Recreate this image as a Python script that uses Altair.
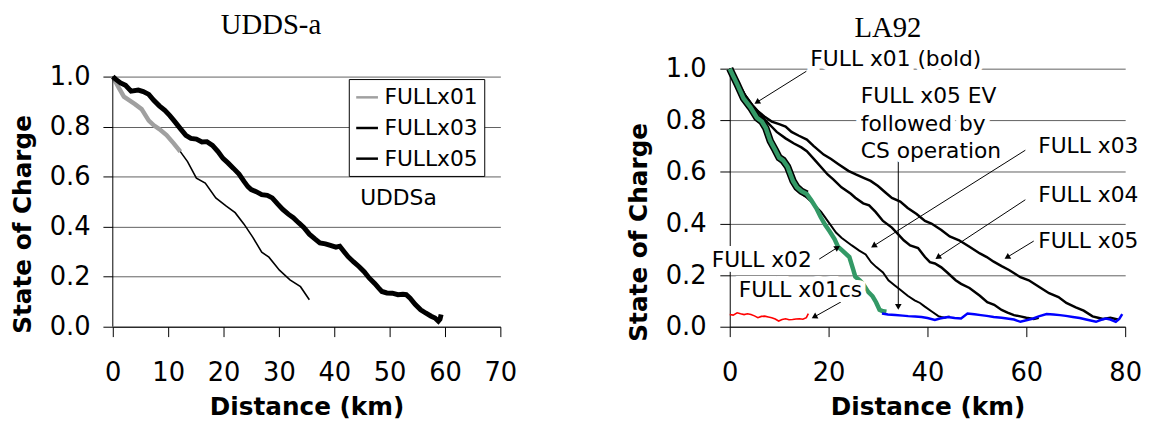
import math
import altair as alt
import pandas as pd

# ---------------- UDDS-a (left panel) ----------------
L01_KM = [0, 1.1, 2.0, 3.0, 4.0, 5.2, 6.5, 7.4, 8.4, 9.7, 11.0, 12.2]
L01_SOC = [1.0, 0.955, 0.92, 0.905, 0.89, 0.87, 0.824, 0.805, 0.79, 0.766, 0.733, 0.70]

L03_KM = [0, 1.1, 2.0, 3.0, 4.0, 5.2, 6.5, 7.4, 8.4, 9.7, 11.0, 12.2, 13.5, 15.1, 16.7, 18.6,
          20.5, 22.1, 23.7, 25.3, 26.9, 28.2, 30.1, 32.0, 33.9, 35.5]
L03_SOC = [1.0, 0.955, 0.92, 0.905, 0.89, 0.87, 0.824, 0.805, 0.79, 0.766, 0.733, 0.70, 0.66, 0.594,
           0.574, 0.515, 0.482, 0.456, 0.41, 0.357, 0.298, 0.278, 0.226, 0.187, 0.16, 0.108]

L05_KM = [0, 0.5, 1.4, 2.3, 3.3, 4.6, 5.5, 6.5, 7.4, 8.4, 9.4, 10.3, 11.2, 12.2, 13.2, 14.1, 15.1,
          16.1, 17, 18, 19, 19.9, 20.8, 21.8, 22.8, 23.7, 24.4, 25, 25.9, 26.9, 27.9, 28.8, 29.8,
          30.7, 31.7, 32.6, 33.6, 34.5, 35.5, 36.5, 37.4, 38.4, 39.3, 40.3, 41, 41.6, 42.5, 43.5,
          44.5, 45.4, 46.3, 47.3, 48, 48.6, 49.5, 50.5, 51.5, 52.4, 53, 53.7, 54.6, 55.6, 56.5,
          57.5, 58.2, 58.8, 59.1, 59.3]
L05_SOC = [1.0, 0.99, 0.975, 0.965, 0.942, 0.946, 0.94, 0.929, 0.905, 0.883, 0.865, 0.844, 0.82,
           0.792, 0.765, 0.753, 0.75, 0.739, 0.74, 0.725, 0.70, 0.673, 0.655, 0.633, 0.61, 0.581,
           0.56, 0.548, 0.54, 0.528, 0.525, 0.515, 0.49, 0.469, 0.45, 0.436, 0.415, 0.397, 0.37,
           0.351, 0.335, 0.331, 0.325, 0.318, 0.322, 0.305, 0.28, 0.259, 0.24, 0.22, 0.195, 0.173,
           0.155, 0.141, 0.135, 0.134, 0.128, 0.13, 0.128, 0.114, 0.09, 0.068, 0.055, 0.042, 0.035,
           0.022, 0.03, 0.049]

LEFT_SERIES = ["FULLx01", "FULLx03", "FULLx05"]
LEFT_COLORS = ["#a0a0a0", "#000000", "#000000"]
LEFT_NOTE = ["UDDSa"]
LEFT_NOTE_KM = [51.6]
LEFT_NOTE_SOC = [0.516]

# ---------------- LA92 (right panel) ----------------
R01_KM = [0, 0.5, 1.5, 2.8, 4.2, 5.5, 6.5, 7.3, 8.2, 9.2, 10.0, 10.8, 11.7, 12.8, 13.6, 14.5, 15.6]
R01_SOC = [1.0, 0.98, 0.94, 0.885, 0.85, 0.81, 0.795, 0.77, 0.72, 0.685, 0.655, 0.645, 0.62, 0.565,
           0.54, 0.525, 0.514]

R02_KM = [0, 0.5, 1.5, 2.8, 4.2, 5.5, 6.5, 7.3, 8.2, 9.2, 10.0, 10.8, 11.7, 12.8, 13.6, 14.5, 15.6,
          16.5, 17.5, 18.4, 19.3, 20.2, 21.2, 21.9, 22.8, 24.2, 25.0, 25.4, 26.3, 27.0, 28.0, 28.9,
          29.6, 30.3, 31.0, 31.7]
R02_SOC = [1.0, 0.98, 0.94, 0.885, 0.85, 0.81, 0.795, 0.77, 0.72, 0.685, 0.655, 0.645, 0.62, 0.565,
           0.54, 0.525, 0.514, 0.49, 0.46, 0.425, 0.395, 0.37, 0.34, 0.31, 0.295, 0.27, 0.22, 0.194,
           0.18, 0.165, 0.135, 0.118, 0.095, 0.066, 0.06, 0.058]

R03_KM = [0, 1.5, 2.8, 4.2, 5.5, 7.3, 8.2, 9.2, 10.0, 11.7, 12.8, 14.5, 15.6, 17.0, 18.5, 19.8,
          21.5, 22.6, 24.7, 26.2, 27.5, 28.6, 29.6, 31.0, 32.1, 33.4, 34.5, 36.0, 37.4, 38.5, 39.4,
          40.8, 42.2, 42.8, 43.5, 44.5]
R03_SOC = [1.0, 0.94, 0.88, 0.845, 0.805, 0.765, 0.715, 0.675, 0.645, 0.61, 0.555, 0.515, 0.50,
           0.475, 0.445, 0.41, 0.365, 0.345, 0.315, 0.295, 0.28, 0.25, 0.232, 0.21, 0.18, 0.16,
           0.143, 0.12, 0.102, 0.092, 0.079, 0.06, 0.041, 0.038, 0.035, 0.04]

R04_KM = [0, 1.5, 3, 4.5, 5.7, 7, 8.5, 9.5, 11.3, 13, 14.5, 15.6, 17.5, 19.8, 21, 22.6, 24.5, 25.4,
          27, 28.2, 29.5, 31, 32.8, 34, 35.2, 36.5, 38.1, 39.5, 40.5, 41.5, 42.8, 44, 45.7, 46.8,
          48.5, 50.6, 52.1, 53.5, 55, 56.2, 57.5, 58.8, 60, 61.5, 62.5]
R04_SOC = [1.0, 0.95, 0.9, 0.86, 0.835, 0.805, 0.775, 0.755, 0.73, 0.71, 0.695, 0.68, 0.64, 0.59,
           0.57, 0.54, 0.515, 0.50, 0.478, 0.47, 0.445, 0.41, 0.384, 0.36, 0.335, 0.315, 0.305,
           0.27, 0.25, 0.245, 0.23, 0.21, 0.18, 0.166, 0.15, 0.12, 0.095, 0.085, 0.065, 0.055,
           0.045, 0.04, 0.035, 0.03, 0.035]

R05_KM = [0, 1.5, 3, 4.5, 5.7, 7, 8.5, 10, 11.3, 12.5, 14, 15.6, 17, 19, 20.5, 22, 24, 25.5, 27.2,
          28.5, 30, 31.5, 32.8, 34.5, 36, 37.8, 39.5, 40.8, 42.8, 44.5, 46.4, 48.5, 50.6, 52, 53.4,
          55, 56.5, 58.8, 60.5, 62.7, 64.6, 66.5, 68.1, 70, 71.6, 73.4, 74.5, 75.5, 77, 78.5]
R05_SOC = [1.0, 0.95, 0.9, 0.86, 0.835, 0.815, 0.795, 0.785, 0.776, 0.755, 0.74, 0.725, 0.70,
           0.667, 0.65, 0.63, 0.604, 0.59, 0.576, 0.565, 0.545, 0.52, 0.499, 0.485, 0.46, 0.437,
           0.41, 0.40, 0.375, 0.35, 0.335, 0.31, 0.284, 0.27, 0.252, 0.235, 0.22, 0.192, 0.18,
           0.153, 0.13, 0.115, 0.092, 0.075, 0.062, 0.04, 0.035, 0.03, 0.035, 0.028]

RCS_KM = [30.8, 32, 33.5, 35, 36.1, 37.5, 38.8, 40, 41.5, 42.5, 44.1, 45.5, 46.8, 48.1, 49.5, 50.8,
          52, 53.4, 55, 56.1, 57.5, 58.8, 60, 61.4, 62.5, 64.1, 65.5, 66.8, 68, 69.4, 70.8, 72.1,
          73, 74.1, 75, 76.1, 77, 78.1, 78.8, 79.4]
RCS_SOC = [0.051, 0.047, 0.045, 0.043, 0.041, 0.04, 0.038, 0.034, 0.026, 0.032, 0.038, 0.034,
           0.032, 0.051, 0.048, 0.045, 0.042, 0.038, 0.035, 0.032, 0.028, 0.019, 0.025, 0.032,
           0.04, 0.049, 0.047, 0.045, 0.042, 0.038, 0.034, 0.028, 0.024, 0.019, 0.026, 0.032,
           0.028, 0.019, 0.03, 0.049]

R01CS_KM = [0, 0.7, 1.5, 2.2, 2.9, 3.6, 4.3, 5.0, 5.7, 6.4, 7.1, 7.8, 8.5, 9.2, 9.9, 10.6, 11.3,
            12.0, 12.7, 13.4, 14.1, 14.8, 15.5, 15.9]
R01CS_SOC = [0.047, 0.045, 0.054, 0.05, 0.047, 0.05, 0.047, 0.042, 0.035, 0.04, 0.041, 0.038,
             0.035, 0.03, 0.022, 0.028, 0.031, 0.027, 0.028, 0.03, 0.031, 0.029, 0.035, 0.051]

ANN_TEXT = ["FULL x01 (bold)", "FULL x05 EV", "followed by", "CS operation",
            "FULL x03", "FULL x04", "FULL x05", "FULL x02", "FULL x01cs"]
ANN_KM = [33.6, 26.5, 26.5, 26.5, 62.4, 62.4, 62.4, 16.6, 26.8]
ANN_SOC = [1.036, 0.893, 0.784, 0.682, 0.70, 0.509, 0.33, 0.26, 0.141]
ANN_ALIGN = ["center", "left", "left", "left", "left", "left", "left", "right", "right"]

ARR_X1 = [15.5, 34.1, 59.8, 59.8, 61.5, 18.1, 22.5]
ARR_Y1 = [0.99, 0.652, 0.684, 0.492, 0.332, 0.262, 0.096]
ARR_X2 = [5.5, 34.1, 29.1, 42.1, 56.1, 21.8, 17.1]
ARR_Y2 = [0.87, 0.077, 0.313, 0.269, 0.269, 0.307, 0.038]

SANS = "DejaVu Sans"
SERIF = "Liberation Serif"
GREEN = "#339966"

LW, LH = 392, 261
RW, RH = 400, 261
LEFT_YMAX = 1.0317  # leaves room above 1.0 so the left grid sits lower than the right one


def frame(km, soc, name=None):
    d = pd.DataFrame({"km": km, "soc": soc})
    if name is not None:
        d["series"] = name
    return d


Y_TICKS = [0, 0.2, 0.4, 0.6, 0.8, 1.0]

# ---------------- left panel ----------------
lxs = alt.Scale(domain=[0, 70], nice=False)
lys = alt.Scale(domain=[0, LEFT_YMAX], nice=False)
lx = alt.X("km:Q", scale=lxs,
           axis=alt.Axis(values=list(range(0, 71, 10)), format="d", title="Distance (km)",
                         grid=False, labelFlush=False, labelOverlap=False,
                         labelPadding=23, titlePadding=10))
ly = alt.Y("soc:Q", scale=lys,
           axis=alt.Axis(values=Y_TICKS, format=".1f", title="State of Charge", grid=True,
                         domain=False, labelPadding=13, titlePadding=14, titleY=157))
lcolor = alt.Color("series:N",
                   scale=alt.Scale(domain=LEFT_SERIES, range=LEFT_COLORS),
                   legend=alt.Legend(title=None, orient="none", legendX=238.7, legendY=10.5,
                                     strokeColor="black", fillColor="white", padding=6,
                                     labelFont=SANS, labelFontSize=22, labelColor="black",
                                     symbolType="stroke", symbolSize=484,
                                     symbolStrokeWidth=2.5, rowPadding=7, labelOffset=5,
                                     cornerRadius=0))

l_axisline = alt.Chart(pd.DataFrame({"a": [0]})).mark_rule(color="black", strokeWidth=1).encode(
    x=alt.X(datum=0, type="quantitative", scale=lxs),
    y=alt.Y(datum=0, type="quantitative", scale=lys),
    y2=alt.Y2(datum=1.0))
l03 = alt.Chart(frame(L03_KM, L03_SOC, "FULLx03")).mark_line(strokeWidth=1.6).encode(
    x=lx, y=ly, color=lcolor)
l01 = alt.Chart(frame(L01_KM, L01_SOC, "FULLx01")).mark_line(strokeWidth=4.5).encode(
    x=lx, y=ly, color=lcolor)
l05 = alt.Chart(frame(L05_KM, L05_SOC, "FULLx05")).mark_line(strokeWidth=5).encode(
    x=lx, y=ly, color=lcolor)
lnote = alt.Chart(pd.DataFrame({"km": LEFT_NOTE_KM, "soc": LEFT_NOTE_SOC, "t": LEFT_NOTE})).mark_text(
    font=SANS, fontSize=22, color="black", align="center", baseline="middle").encode(
    x=lx, y=ly, text="t:N")

left = alt.layer(l03, l01, l05, lnote, l_axisline).properties(
    width=LW, height=LH,
    title=alt.TitleParams("UDDS-a", font=SERIF, fontSize=29, fontWeight="normal", color="black",
                          anchor="middle", frame="group", dx=-36, offset=24))

# ---------------- right panel ----------------
rxs = alt.Scale(domain=[0, 80], nice=False)
rys = alt.Scale(domain=[0, 1], nice=False)
rx = alt.X("km:Q", scale=rxs,
           axis=alt.Axis(values=[0, 20, 40, 60, 80], format="d", title="Distance (km)",
                         grid=False, labelFlush=False, labelOverlap=False,
                         labelPadding=23, titlePadding=10))
ry = alt.Y("soc:Q", scale=rys,
           axis=alt.Axis(values=Y_TICKS, format=".1f", title="State of Charge", grid=True,
                         labelPadding=14, titlePadding=14, titleY=165))


def rline(km, soc, color, width):
    return alt.Chart(frame(km, soc)).mark_line(color=color, strokeWidth=width).encode(x=rx, y=ry)


r05 = rline(R05_KM, R05_SOC, "black", 2.5)
r04 = rline(R04_KM, R04_SOC, "black", 2.5)
r03 = rline(R03_KM, R03_SOC, "black", 2.0)
r01 = rline(R01_KM, R01_SOC, "black", 7.5)
r02 = rline(R02_KM, R02_SOC, GREEN, 4.5)
rcs = rline(RCS_KM, RCS_SOC, "#0000ff", 2.5)
r01cs = rline(R01CS_KM, R01CS_SOC, "#ff0000", 1.6)

# arrows
px_per_km = RW / 80.0
px_per_soc = float(RH)
angles = []
for x1, y1, x2, y2 in zip(ARR_X1, ARR_Y1, ARR_X2, ARR_Y2):
    dx = (x2 - x1) * px_per_km
    dy = -(y2 - y1) * px_per_soc
    angles.append(math.degrees(math.atan2(dx, -dy)) % 360)
arr = pd.DataFrame({"x1": ARR_X1, "y1": ARR_Y1, "x2": ARR_X2, "y2": ARR_Y2, "ang": angles})

arrow_lines = alt.Chart(arr).mark_rule(color="black", strokeWidth=1).encode(
    x=alt.X("x1:Q", scale=rxs), y=alt.Y("y1:Q", scale=rys), x2="x2:Q", y2="y2:Q")
arrow_heads = alt.Chart(arr).mark_point(shape="triangle-up", filled=True, size=45,
                                        color="black", opacity=1).encode(
    x=alt.X("x2:Q", scale=rxs), y=alt.Y("y2:Q", scale=rys),
    angle=alt.Angle("ang:Q", scale=None))

ann = pd.DataFrame({"km": ANN_KM, "soc": ANN_SOC, "t": ANN_TEXT, "al": ANN_ALIGN})
text_layers = []
for al in ["center", "left", "right"]:
    sub = ann[ann["al"] == al]
    halo = alt.Chart(sub).mark_text(font=SANS, fontSize=22, align=al, baseline="middle",
                                    color="white", stroke="white", strokeWidth=10).encode(
        x=rx, y=ry, text="t:N")
    txt = alt.Chart(sub).mark_text(font=SANS, fontSize=22, align=al, baseline="middle",
                                   color="black").encode(x=rx, y=ry, text="t:N")
    text_layers += [halo, txt]

right = alt.layer(r05, r04, r03, r01, r02, rcs, r01cs, arrow_lines, arrow_heads,
                  *text_layers).properties(
    width=RW, height=RH,
    title=alt.TitleParams("LA92", font=SERIF, fontSize=29, fontWeight="normal", color="black",
                          anchor="middle", frame="group", dx=-40, offset=6))

chart = alt.hconcat(left, right, spacing=110).properties(
    padding={"left": 2, "top": 1, "right": 0, "bottom": 0}
).configure_axis(
    labelFont=SANS, labelFontSize=26, labelColor="black",
    titleFont=SANS, titleFontSize=25, titleFontWeight="bold", titleColor="black",
    domainColor="black", domainWidth=1, tickColor="black", tickWidth=1, tickSize=10,
    gridColor="#606060", gridWidth=1
).configure_view(stroke=None)

chart.save("out.html", embed_options={"renderer": "svg", "actions": False})
